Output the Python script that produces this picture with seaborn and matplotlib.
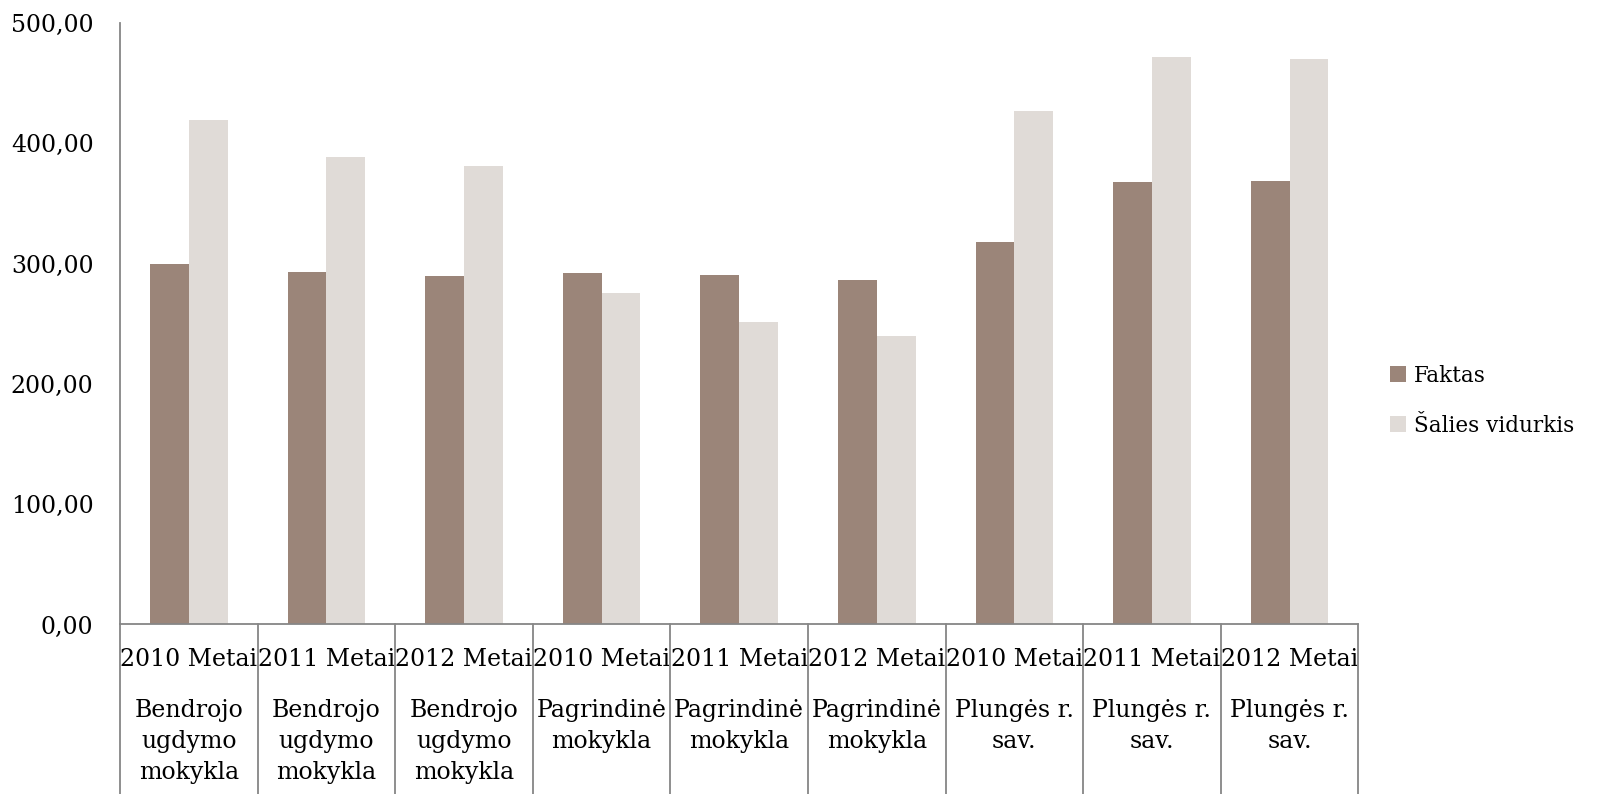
import matplotlib
matplotlib.use('agg')
import matplotlib.pyplot as plt
import seaborn as sns
import pandas as pd

# duomenys
years = ['2010 Metai', '2011 Metai', '2012 Metai'] * 3
groups = ['Bendrojo\nugdymo\nmokykla'] * 3 + ['Pagrindinė\nmokykla'] * 3 + ['Plungės r.\nsav.'] * 3
faktas = [300.0, 293.0, 289.5, 292.0, 290.5, 286.5, 318.0, 368.0, 368.5]
salies = [419.5, 389.0, 381.0, 275.5, 251.5, 239.5, 427.0, 472.0, 470.0]
series = ['Faktas', 'Šalies vidurkis']
colors = ['#9b8579', '#e0dbd7']

keys = [f'{i}' for i in range(len(years))]
df = pd.DataFrame({
    'key': keys * 2,
    'value': faktas + salies,
    'series': [series[0]] * len(keys) + [series[1]] * len(keys),
})

sns.set_style('white')
plt.rcParams['font.family'] = ['DejaVu Serif']
plt.rcParams['font.size'] = 17
plt.rcParams['text.color'] = 'black'

fig = plt.figure(figsize=(16, 7.94), dpi=100)
ax = fig.add_axes([0.075, 0.2135, 0.774, 0.7575])

sns.barplot(data=df, x='key', y='value', hue='series', order=keys,
            hue_order=series, palette=colors, width=0.564, saturation=1,
            ax=ax, edgecolor='none')

ax.set_xlim(-0.5, len(keys) - 0.5)
ax.set_ylim(0, 500)
ax.set_yticks(range(0, 501, 100))
ax.set_yticklabels([f'{v:.2f}'.replace('.', ',') for v in range(0, 501, 100)])
ax.set_xticks(range(len(keys)))
ax.set_xticklabels(years)
ax.tick_params(axis='both', length=0, labelsize=17, colors='black')
ax.tick_params(axis='y', pad=19)
ax.tick_params(axis='x', pad=17)
ax.set_xlabel('')
ax.set_ylabel('')

for s in ['top', 'right']:
    ax.spines[s].set_visible(False)
for s in ['left', 'bottom']:
    ax.spines[s].set_color('#868686')
    ax.spines[s].set_linewidth(1.3)

# vertikalios skiriamosios linijos po ašimi
trans = ax.get_xaxis_transform()
for k in range(len(keys) + 1):
    ax.plot([k - 0.5, k - 0.5], [0, -0.4], transform=trans, color='#868686',
            lw=1.3, clip_on=False)

# grupių pavadinimai
for i, g in enumerate(groups):
    ax.annotate(g, xy=(i, 0), xycoords=trans, xytext=(0, -54),
                textcoords='offset points', ha='center', va='top',
                fontsize=17, linespacing=1.42, color='black')

ax.legend(loc='center left', bbox_to_anchor=(1.01, 0.372), frameon=False,
          handlelength=0.75, handleheight=0.75, handletextpad=0.35,
          labelspacing=1.3, fontsize=15.5)

fig.savefig('out.png', dpi=100)
